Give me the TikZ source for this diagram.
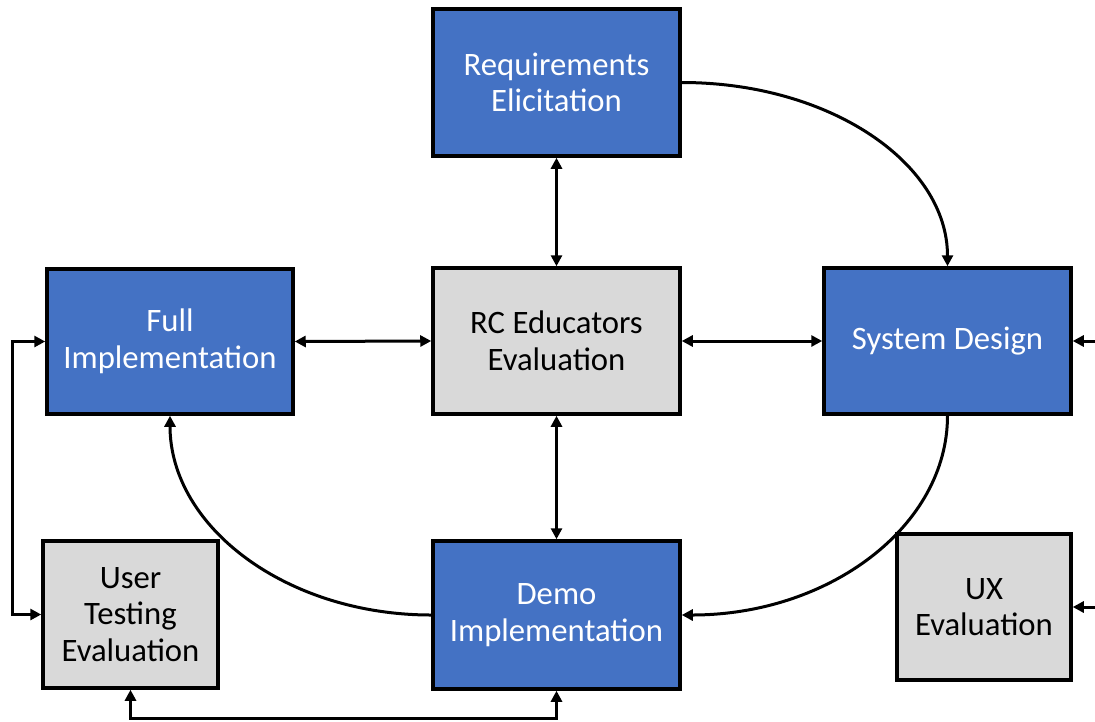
\documentclass[tikz,border=0pt]{standalone}
\usepackage{fontspec}
\setmainfont{Carlito}
\usetikzlibrary{arrows.meta}
\definecolor{stageblue}{HTML}{4472C4}
\definecolor{evalgray}{HTML}{D9D9D9}
\begin{document}
\begin{tikzpicture}[x=1pt,y=-1pt,
  box/.style={draw=black, line width=3.5pt, align=center, inner sep=0pt,
    font=\fontsize{32.7}{36.5}\selectfont},
  stage/.style={box, fill=stageblue, text=white},
  review/.style={box, fill=evalgray, text=black},
  link/.style={line width=3pt, draw=black},
  tip/.tip={Triangle[length=11pt,width=11pt]}]
\useasboundingbox (0,0) rectangle (1095,721);

% stages of the process
\node[stage, minimum width=247pt, minimum height=147pt] (req) at (556.5,82.5) {Requirements\\Elicitation};
\node[review, minimum width=247pt, minimum height=146pt] (rc) at (556.5,341) {RC Educators\\Evaluation};
\node[stage, minimum width=246pt, minimum height=145pt] (full) at (170,341.5) {Full\\Implementation};
\node[stage, minimum width=247pt, minimum height=146pt] (sd) at (947.5,341) {System Design};
\node[stage, minimum width=247pt, minimum height=148pt] (demo) at (556.5,615) {Demo\\Implementation};
\node[review, minimum width=175pt, minimum height=147pt] (ut) at (130.5,614.5) {User\\Testing\\Evaluation};
\node[review, minimum width=174pt, minimum height=146pt] (ux) at (984,607) {UX\\Evaluation};

% loose ends coming in from the right
\coordinate (sdin) at (1095,341);
\coordinate (uxin) at (1095,607);
% routing corners
\coordinate (lefttop) at (12,341.5);
\coordinate (leftbot) at (12,614.5);
\coordinate (botl) at (130.5,718);
\coordinate (botr) at (556.5,718);

% straight two-way links
\draw[link, tip-tip] (req.south) -- (rc.north);
\draw[link, tip-tip] (full.east) -- (rc.west);
\draw[link, tip-tip] (rc.east) -- (sd.west);
\draw[link, tip-tip] (rc.south) -- (demo.north);

% cycle arcs
\draw[link, -tip] (req.east) .. controls +(148,0) and +(0,-103) .. (sd.north);
\draw[link, -tip] (sd.south) .. controls +(0,110) and +(148,0) .. (demo.east);
\draw[link, -tip] (demo.west) .. controls +(-145,0) and +(0,111) .. (full.south);

% elbow links
\draw[link, tip-tip] (full.west) -- (lefttop) -- (leftbot) -- (ut.west);
\draw[link, tip-tip] (ut.south) -- (botl) -- (botr) -- (demo.south);

% inputs from the right edge
\draw[link, -tip] (sdin) -- (sd.east);
\draw[link, -tip] (uxin) -- (ux.east);
\end{tikzpicture}
\end{document}
